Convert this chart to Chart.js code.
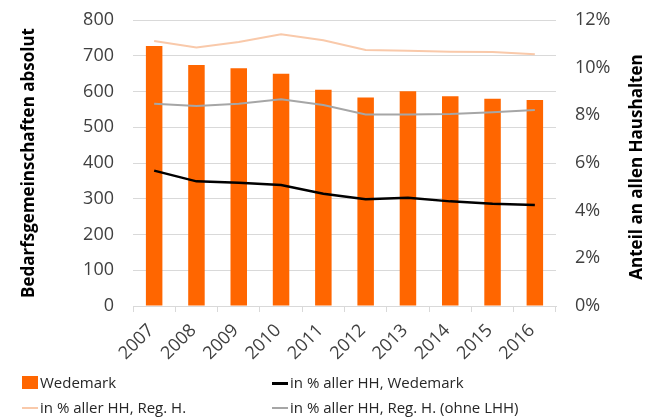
<!DOCTYPE html>
<html>
<head>
<meta charset="utf-8">
<script src="https://cdn.jsdelivr.net/npm/chart.js@4/dist/chart.umd.min.js"></script>
<style>
  body { margin: 0; background: #fff; }
  #wrap { position: relative; width: 646px; height: 420px; font-family: "Open Sans", sans-serif; }
  #legend { position: absolute; left: 0; top: 0; width: 646px; height: 420px; pointer-events: none; }
  .item { position: absolute; font-size: 15px; color: #262626; white-space: nowrap; line-height: 20px; }
  .mark { position: absolute; }
</style>
</head>
<body>
<div id="wrap">
  <canvas id="chart" width="646" height="420"></canvas>
  <div id="legend"></div>
</div>
<script>
// Jahre und Werte
var years = ["2007", "2008", "2009", "2010", "2011", "2012", "2013", "2014", "2015", "2016"];
var bgWedemark = [727, 674, 665, 650, 605, 583, 601, 587, 580, 576];
var pctWedemark = [5.68, 5.23, 5.17, 5.08, 4.71, 4.48, 4.54, 4.39, 4.29, 4.24];
var pctRegion = [11.12, 10.85, 11.08, 11.40, 11.15, 10.74, 10.71, 10.67, 10.66, 10.56];
var pctRegionOhneLHH = [8.49, 8.39, 8.49, 8.67, 8.43, 8.04, 8.04, 8.06, 8.13, 8.22];

var seriesNames = ["Wedemark", "in % aller HH, Wedemark", "in % aller HH, Reg. H.", "in % aller HH, Reg. H. (ohne LHH)"];
var colors = ["#ff6600", "#000000", "#f9c9aa", "#a6a6a6"];

var tickFont = { family: "Open Sans", size: 18 };
var gridColor = "#d9d9d9";

// rechter Achsentitel, von unten nach oben gelesen
var rightTitle = {
    id: "rightTitle",
    afterDraw: function(chart) {
        var ctx = chart.ctx;
        var area = chart.chartArea;
        ctx.save();
        ctx.translate(637, (area.top + area.bottom) / 2 + 4);
        ctx.rotate(-Math.PI / 2);
        ctx.font = "bold 17px 'Open Sans'";
        ctx.fillStyle = "#000";
        ctx.textAlign = "center";
        ctx.textBaseline = "middle";
        ctx.fillText("Anteil an allen Haushalten", 0, 0);
        ctx.restore();
    }
};

// feste Breite, keine Zusatzpolster oben/unten
function fixY(width) {
    return function(s) {
        s.width = width;
        s.paddingTop = 0;
        s.paddingBottom = 0;
    };
}

const ctx = document.getElementById('chart').getContext('2d');
const chart = new Chart(ctx, {
    type: 'bar',
    data: {
        labels: years,
        datasets: [
            {
                type: 'line', label: seriesNames[1], data: pctWedemark, yAxisID: 'y1',
                borderColor: colors[1], borderWidth: 2.5, pointRadius: 0, tension: 0, order: 1
            },
            {
                type: 'line', label: seriesNames[2], data: pctRegion, yAxisID: 'y1',
                borderColor: colors[2], borderWidth: 2, pointRadius: 0, tension: 0, order: 2
            },
            {
                type: 'line', label: seriesNames[3], data: pctRegionOhneLHH, yAxisID: 'y1',
                borderColor: colors[3], borderWidth: 2, pointRadius: 0, tension: 0, order: 3
            },
            {
                label: seriesNames[0], data: bgWedemark, yAxisID: 'y',
                backgroundColor: colors[0], barPercentage: 0.39, categoryPercentage: 1, order: 4
            }
        ]
    },
    options: {
        responsive: false,
        animation: false,
        layout: { padding: { left: 12, right: 0, top: 20, bottom: 58 } },
        plugins: { legend: { display: false }, tooltip: { enabled: false } },
        scales: {
            x: {
                grid: { offset: true, drawOnChartArea: false, color: gridColor, tickLength: 6 },
                border: { color: gridColor },
                ticks: { font: tickFont, color: "#404040", minRotation: 45, maxRotation: 45,
                         padding: 8, labelOffset: -3 },
                afterFit: function(s) { s.height = 56; }
            },
            y: {
                position: 'left', min: 0, max: 800,
                ticks: { stepSize: 100, font: tickFont, color: "#404040", padding: 19 },
                grid: { color: gridColor, drawTicks: false },
                border: { display: false },
                title: { display: true, text: "Bedarfsgemeinschaften absolut", color: "#000",
                         font: { family: "Open Sans", size: 17, weight: "bold" }, padding: { top: 7, bottom: 0 } },
                afterFit: fixY(121)
            },
            y1: {
                position: 'right', min: 0, max: 12,
                ticks: { stepSize: 2, font: tickFont, color: "#404040", padding: 19,
                         callback: function(v) { return v + "%"; } },
                grid: { drawOnChartArea: false, drawTicks: false },
                border: { display: false },
                afterFit: fixY(90)
            }
        }
    },
    plugins: [rightTitle]
});

// Legende in zwei Spalten
var legendPos = [
    { x: 22, y: 372, kind: "box" },
    { x: 272, y: 372, kind: "line" },
    { x: 22, y: 397, kind: "line" },
    { x: 272, y: 397, kind: "line" }
];
var legend = document.getElementById('legend');
legendPos.forEach(function(p, i) {
    var mark = document.createElement('div');
    mark.className = 'mark';
    if (p.kind === "box") {
        mark.style.left = p.x + "px"; mark.style.top = (p.y + 4) + "px";
        mark.style.width = "16px"; mark.style.height = "13px";
    } else {
        mark.style.left = p.x + "px"; mark.style.top = (p.y + 10) + "px";
        mark.style.width = "16px"; mark.style.height = i === 1 ? "3px" : "2px";
    }
    mark.style.background = colors[i];
    legend.appendChild(mark);
    var t = document.createElement('div');
    t.className = 'item';
    t.style.left = (p.x + 18) + "px"; t.style.top = p.y + "px";
    t.textContent = seriesNames[i];
    legend.appendChild(t);
});
</script>
</body>
</html>
